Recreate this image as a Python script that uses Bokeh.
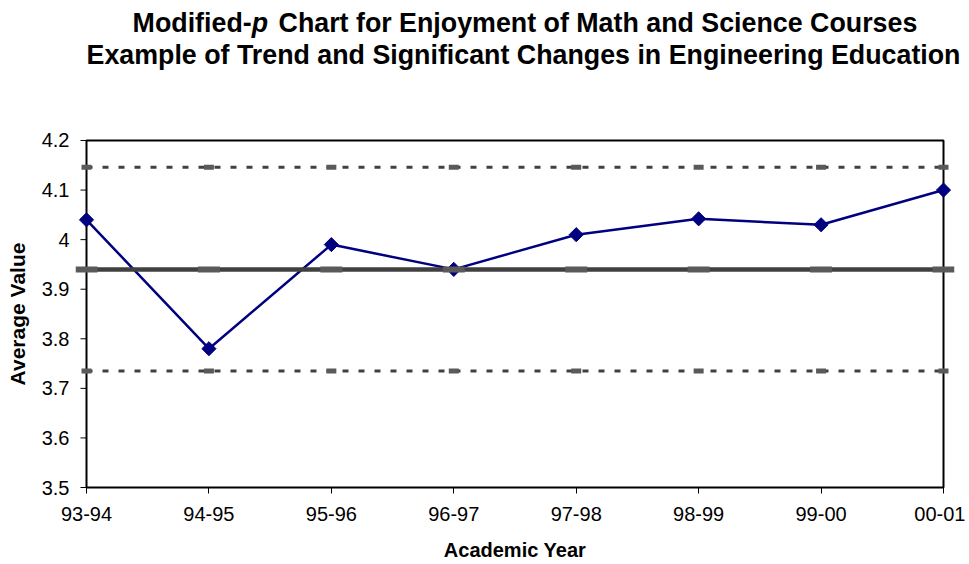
import math
from bokeh.plotting import figure
from bokeh.models import Range1d, FixedTicker
from bokeh.core.properties import value
from bokeh.embed import file_html
from bokeh.resources import INLINE

# ---- data ----
years = ["93-94", "94-95", "95-96", "96-97", "97-98", "98-99", "99-00", "00-01"]
avg_values = [4.04, 3.78, 3.99, 3.94, 4.01, 4.042, 4.03, 4.10]
center_line = 3.94
upper_limit = 4.146
lower_limit = 3.735
y_ticks = [3.5, 3.6, 3.7, 3.8, 3.9, 4.0, 4.1, 4.2]
y_tick_labels = ["3.5", "3.6", "3.7", "3.8", "3.9", "4", "4.1", "4.2"]

title_1a = "Modified-"
title_1b = "p"
title_1c = "Chart for Enjoyment of Math and Science Courses"
title_2 = "Example of Trend and Significant Changes in Engineering Education"
x_title = "Academic Year"
y_title = "Average Value"

FONT = "Liberation Sans"

# ---- geometry (page px) ----
W = 965
H_TITLE = 100
H_TOTAL = 563
H_MAIN = H_TOTAL - H_TITLE
x_idx = list(range(len(years)))
ymin, ymax = y_ticks[0], y_ticks[-1]
frame_left, frame_right = 75, 954
plot_left_px, plot_right_px = 86, 943
xpx = (plot_right_px - plot_left_px) / (x_idx[-1] - x_idx[0])
xpad = (plot_left_px - frame_left) / xpx
top_px, bot_px = 140 - H_TITLE, 488 - H_TITLE
ypx = (bot_px - top_px) / (ymax - ymin)
ypad_px = 2
ypad = ypad_px / ypx

# ---- title strip ----
t = figure(width=W, height=H_TITLE, output_backend="svg", toolbar_location=None,
           x_range=Range1d(0, W), y_range=Range1d(H_TITLE, 0),
           x_axis_location=None, y_axis_location=None,
           min_border=0, min_border_left=0, min_border_right=0,
           min_border_top=0, min_border_bottom=0)
t.outline_line_color = None
t.xgrid.visible = False
t.ygrid.visible = False
t.background_fill_color = "white"
t.border_fill_color = "white"

TF = 26.8
title_center = 523
em_1a, em_1b, em_sp, em_1c = 4.444, 0.611, 0.278, 23.838
start = title_center - TF * (em_1a + em_1b + em_sp + em_1c) / 2
line1_y, line2_y = 22, 54
tcommon = dict(text_font=value(FONT), text_font_size=f"{TF}px", text_color="black",
               text_baseline="alphabetic")
t.text(x=[start], y=[line1_y], text=[title_1a], text_align="left",
       text_font_style="bold", **tcommon)
t.text(x=[start + TF * em_1a], y=[line1_y], text=[title_1b], text_align="left",
       text_font_style="bold italic", **tcommon)
t.text(x=[start + TF * (em_1a + em_1b + em_sp) + 3], y=[line1_y], text=[title_1c],
       text_align="left", text_font_style="bold", **tcommon)
t.text(x=[title_center], y=[line2_y], text=[title_2], text_align="center",
       text_font_style="bold", **tcommon)

# ---- main chart ----
p = figure(width=W, height=H_MAIN, output_backend="svg", toolbar_location=None,
           x_range=Range1d(x_idx[0] - xpad, x_idx[-1] + xpad),
           y_range=Range1d(ymin - ypad, ymax + ypad),
           min_border_left=frame_left, min_border_right=W - frame_right,
           min_border_top=top_px - ypad_px, min_border_bottom=H_MAIN - (bot_px + ypad_px))
p.outline_line_color = None
p.background_fill_color = "white"
p.border_fill_color = "white"
p.xgrid.visible = False
p.ygrid.visible = False

xa = p.xaxis[0]
xa.ticker = FixedTicker(ticks=x_idx)
xa.major_label_overrides = {float(i): lab for i, lab in zip(x_idx, years)}
xa.axis_line_color = None
xa.major_tick_out = 4
xa.major_tick_in = 2
xa.major_tick_line_color = "black"
xa.minor_tick_line_color = None
xa.major_label_standoff = 13
xa.major_label_text_font = FONT
xa.major_label_text_font_size = "20px"
xa.major_label_text_color = "black"
xa.axis_label = x_title
xa.axis_label_text_font = FONT
xa.axis_label_text_font_size = "20px"
xa.axis_label_text_font_style = "bold"
xa.axis_label_text_color = "black"
xa.axis_label_standoff = 15

ya = p.yaxis[0]
ya.ticker = FixedTicker(ticks=y_ticks)
ya.major_label_overrides = {float(v): lab for v, lab in zip(y_ticks, y_tick_labels)}
ya.axis_line_color = None
ya.major_tick_out = 0
ya.major_tick_in = 0
ya.minor_tick_line_color = None
ya.major_label_standoff = 6
ya.major_label_text_font = FONT
ya.major_label_text_font_size = "20px"
ya.major_label_text_color = "black"
ya.axis_label = y_title
ya.axis_label_text_font = FONT
ya.axis_label_text_font_size = "21px"
ya.axis_label_text_font_style = "bold"
ya.axis_label_text_color = "black"
ya.axis_label_standoff = 10

# plot-area frame
p.quad(left=x_idx[0], right=x_idx[-1], bottom=ymin, top=ymax,
       fill_color=None, line_color="black", line_width=2)
# y ticks outside frame
tick_len = 6 / xpx
p.segment(x0=[x_idx[0] - tick_len] * len(y_ticks), x1=[x_idx[0]] * len(y_ticks),
          y0=y_ticks, y1=y_ticks, line_color="black", line_width=1)

# data series
p.line(x_idx, avg_values, line_color="#000080", line_width=2.5)
p.scatter(x_idx, avg_values, marker="square", angle=math.pi / 4, size=10,
          fill_color="#000080", line_color="#000080")

# control limits
n = len(x_idx)
for lim in (upper_limit, lower_limit):
    p.line(x_idx, [lim] * n, line_color="#404040", line_width=3, line_dash="6 10")
    p.scatter(x_idx, [lim] * n, marker="dash", size=10, line_width=5,
              line_color="#5a5a5a")
p.line(x_idx, [center_line] * n, line_color="#404040", line_width=4.5)
p.scatter(x_idx, [center_line] * n, marker="dash", size=22, line_width=6,
          line_color="#5a5a5a")

open("out.html", "w").write(file_html([t, p], INLINE))
